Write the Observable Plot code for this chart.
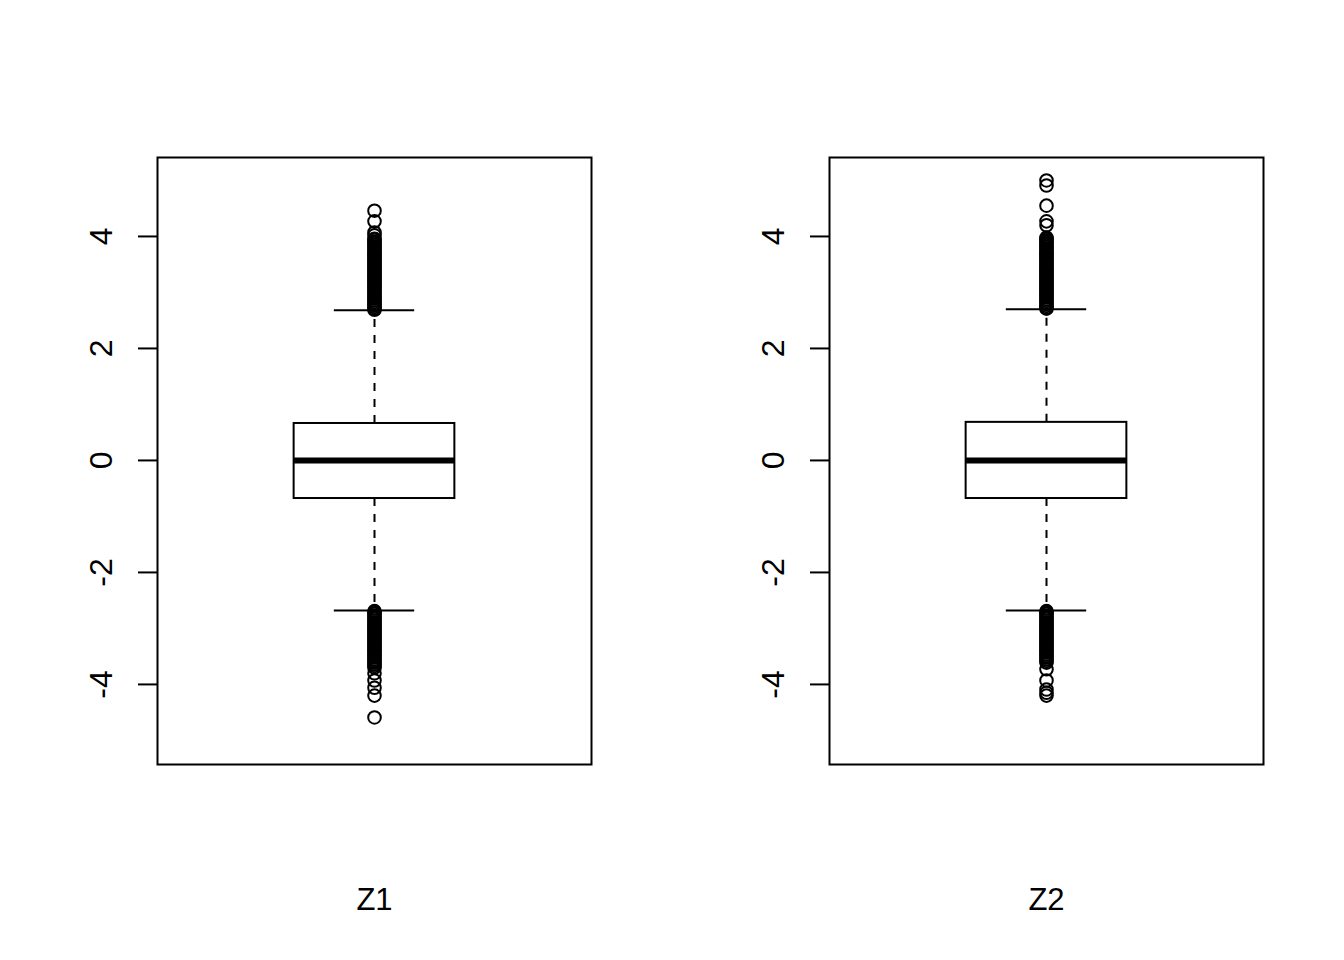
<!DOCTYPE html>
<html>
<head>
<meta charset="utf-8">
<script src="https://cdn.jsdelivr.net/npm/d3@7"></script>
<script src="https://cdn.jsdelivr.net/npm/@observablehq/plot@0.6"></script>
<style>
  html, body { margin: 0; padding: 0; background: #fff; }
  #wrap { display: flex; width: 1344px; height: 960px; }
</style>
</head>
<body>
<div id="wrap"></div>
<script>
// ---- data ----
const groups = ["Z1", "Z2"];
const q1 = [-0.68, -0.68];
const medians = [0.0, 0.0];
const q3 = [0.66, 0.68];
const whiskerLow = [-2.68, -2.68];
const whiskerHigh = [2.68, 2.70];
const yTicks = [-4, -2, 0, 2, 4];

const outliersZ1 = [
  // upper
  2.69, 2.71, 2.74, 2.77, 2.80, 2.83, 2.86, 2.89, 2.92, 2.95, 2.98, 3.01, 3.04, 3.07,
  3.10, 3.13, 3.16, 3.19, 3.22, 3.25, 3.28, 3.31, 3.34, 3.37, 3.40, 3.43, 3.46, 3.49,
  3.52, 3.55, 3.58, 3.61, 3.64, 3.67, 3.70, 3.73, 3.76, 3.79, 3.82, 3.85, 3.88, 3.91,
  3.94, 3.96, 4.02, 4.07, 4.27, 4.46,
  // lower
  -2.69, -2.71, -2.74, -2.77, -2.80, -2.83, -2.86, -2.89, -2.92, -2.95, -2.98, -3.01,
  -3.04, -3.07, -3.10, -3.13, -3.16, -3.19, -3.22, -3.25, -3.28, -3.31, -3.34, -3.37,
  -3.40, -3.43, -3.46, -3.49, -3.52, -3.55, -3.58, -3.61, -3.64, -3.67, -3.70, -3.80,
  -3.93, -4.06, -4.20, -4.59
];
const outliersZ2 = [
  // upper
  2.71, 2.73, 2.76, 2.79, 2.82, 2.85, 2.88, 2.91, 2.94, 2.97, 3.00, 3.03, 3.06, 3.09,
  3.12, 3.15, 3.18, 3.21, 3.24, 3.27, 3.30, 3.33, 3.36, 3.39, 3.42, 3.45, 3.48, 3.51,
  3.54, 3.57, 3.60, 3.63, 3.66, 3.69, 3.72, 3.75, 3.78, 3.81, 3.84, 3.87, 3.90, 3.93,
  3.96, 3.98, 4.20, 4.27, 4.55, 4.91, 5.00,
  // lower
  -2.69, -2.71, -2.74, -2.77, -2.80, -2.83, -2.86, -2.89, -2.92, -2.95, -2.98, -3.01,
  -3.04, -3.07, -3.10, -3.13, -3.16, -3.19, -3.22, -3.25, -3.28, -3.31, -3.34, -3.37,
  -3.40, -3.43, -3.46, -3.49, -3.52, -3.55, -3.58, -3.61, -3.73, -3.93, -4.09, -4.15,
  -4.20
];
const outliers = [outliersZ1, outliersZ2];

// ---- drawing ----
const font = "'Liberation Sans', Arial, sans-serif";
const wrap = document.getElementById("wrap");

groups.forEach((name, i) => {
  const stats = [{name, q1: q1[i], med: medians[i], q3: q3[i], lo: whiskerLow[i], hi: whiskerHigh[i]}];
  const chart = Plot.plot({
    width: 672,
    height: 960,
    marginLeft: 157,
    marginRight: 81,
    marginTop: 157,
    marginBottom: 196,
    style: {fontFamily: font, background: "#fff", color: "#000", overflow: "visible"},
    x: {domain: [0.46, 1.54], axis: null},
    y: {domain: [-5.43, 5.41], axis: null},
    marks: [
      Plot.frame({stroke: "#000", strokeWidth: 2}),
      Plot.axisY({
        ticks: yTicks,
        tickSize: 19,
        tickPadding: 27,
        tickRotate: -90,
        fontSize: 32,
        strokeWidth: 2,
        tickFormat: d => String(d).replace("\u2212", "-"),
        label: null
      }),
      // whiskers (dashed)
      Plot.ruleX(stats, {x: () => 1, y1: d => d.q3, y2: d => d.hi, stroke: "#000", strokeWidth: 2, strokeDasharray: "8,8"}),
      Plot.ruleX(stats, {x: () => 1, y1: d => d.q1, y2: d => d.lo, stroke: "#000", strokeWidth: 2, strokeDasharray: "8,8"}),
      // staples
      Plot.ruleY(stats, {y: d => d.hi, x1: () => 0.9, x2: () => 1.1, stroke: "#000", strokeWidth: 2}),
      Plot.ruleY(stats, {y: d => d.lo, x1: () => 0.9, x2: () => 1.1, stroke: "#000", strokeWidth: 2}),
      // box
      Plot.rect(stats, {x1: () => 0.8, x2: () => 1.2, y1: d => d.q1, y2: d => d.q3, fill: "#fff", stroke: "#000", strokeWidth: 2}),
      // median
      Plot.ruleY(stats, {y: d => d.med, x1: () => 0.8, x2: () => 1.2, stroke: "#000", strokeWidth: 6}),
      // outliers
      Plot.dot(outliers[i], {x: () => 1, y: d => d, r: 6.3, stroke: "#000", strokeWidth: 2, fill: "none"}),
      // group label
      Plot.text(stats, {x: () => 1, frameAnchor: "bottom", dy: 136, text: d => d.name, fontSize: 31, lineAnchor: "middle", fill: "#000"})
    ]
  });
  wrap.appendChild(chart);
});
</script>
</body>
</html>
